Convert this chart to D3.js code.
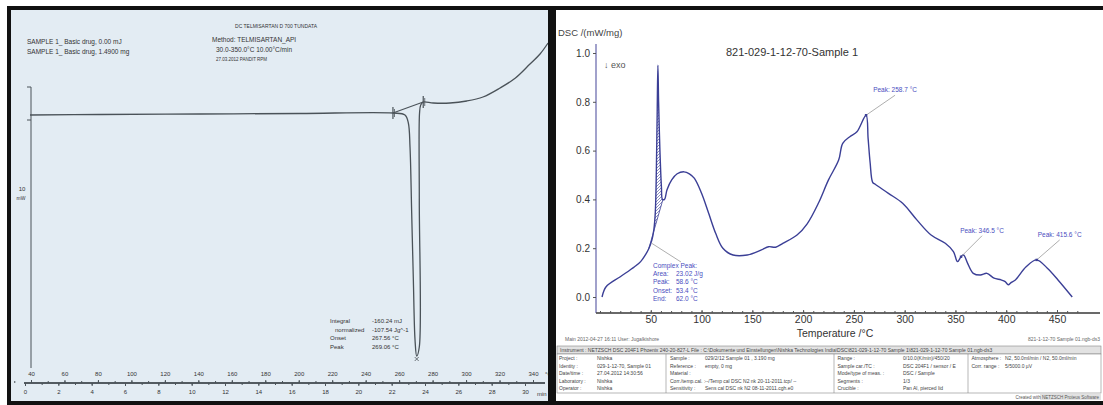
<!DOCTYPE html>
<html><head><meta charset="utf-8">
<script src="https://cdn.jsdelivr.net/npm/d3@7"></script>
<style>body{margin:0;background:#fff}svg{display:block;font-family:"Liberation Sans",Arial,sans-serif}</style>
</head><body><svg id="c" width="1103" height="405"></svg>
<script>
// ---------- LEFT chart (Mettler style thermogram) ----------
const leftTempTicks = [40,60,80,100,120,140,160,180,200,220,240,260,280,300,320,340];
const leftTimeTicks = [0,2,4,6,8,10,12,14,16,18,20,22,24,26,28,30];
const leftTemp = [39.4,81.2,141,200.8,256.3,263.5,265.5,266.5,267.5,268.5,269.5,270.5,272.05,272.05,272.2,272.9,274.4,280.4,290.4,300.4,310.1,320.3,329.5,338.2,344.2,349];
const leftHeatFlow = [-0.1,-0.05,0,0.05,0.1,-0.1,-0.9,-3.3,-9.9,-16.6,-22.6,-24.2,-23.3,-8.6,0.1,0.9,1.2,1.1,1.1,1.3,1.7,2.6,3.6,5.0,6.0,7.1];
const leftBaseTemp = [256.3,274.4];
const leftBaseHF = [0.1,1.2];
const leftHeaderLines = ["SAMPLE 1_  Basic drug, 0.00    mJ","SAMPLE 1_  Basic drug, 1.4900 mg"];
const leftMethodLines = ["Method: TELMISARTAN_API","30.0-350.0°C 10.00°C/min","27.03.2012 PANDIT RPM"];
const leftTitle = "DC TELMISARTAN D 700 TUNDATA";
const leftResultLabels = ["Integral","normalized","Onset","Peak"];
const leftResultValues = ["-160.24 mJ","-107.54 Jg^-1","267.56 °C","269.06 °C"];

// ---------- RIGHT chart (NETZSCH DSC) ----------
const rightTemp = [2,6,20,34,40,45,48,51,53,54.5,55.5,56.3,57,57.7,59,60.5,61.5,63.5,66,70.6,76,82.7,88,93,100,107,114,121,131,145,159,166,173,180,194,204,215,225,235,239,246,253,262,264,266,268.5,271,284,298,312,326,340,348,352,355.5,358,362,367.6,374.5,381,388,395,399,402,405,409,419.6,430,440.5,451,465];
const rightDSC = [0.0,0.042,0.083,0.124,0.145,0.175,0.198,0.232,0.275,0.35,0.52,0.75,0.95,0.8,0.6,0.45,0.40,0.40,0.44,0.48,0.505,0.513,0.505,0.486,0.425,0.343,0.26,0.2,0.172,0.172,0.193,0.206,0.204,0.22,0.254,0.30,0.384,0.48,0.561,0.63,0.657,0.677,0.745,0.65,0.55,0.47,0.462,0.425,0.384,0.316,0.254,0.22,0.186,0.145,0.165,0.172,0.138,0.097,0.09,0.097,0.077,0.07,0.063,0.05,0.06,0.07,0.124,0.152,0.118,0.07,0.0];
const rightXTicks = [50,100,150,200,250,300,350,400,450];
const rightYTicks = [0.0,0.2,0.4,0.6,0.8,1.0];
const complexPeakRange = [48,62];
const complexPeakLines = [["Complex Peak:",""],["Area:","23.02 J/g"],["Peak:","58.6 °C"],["Onset:","53.4 °C"],["End:","62.0 °C"]];
const peakTemps = [262,355.5,430];
const peakTexts = ["Peak: 258.7 °C","Peak: 346.5 °C","Peak: 415.6 °C"];
const tableHeader = "Instrument :   NETZSCH DSC 204F1 Phoenix 240-20-827-L    File :   C:\\Dokumente und Einstellungen\\Nishka Technologies India\\DSC\\821-029-1-12-70 Sample 1\\821-029-1-12-70 Sample 01.ngb-ds3";
const tableLabels = [
  ["Project :","Identity :","Date/time :","Laboratory :","Operator :"],
  ["Sample :","Reference :","Material :","Corr./temp.cal. :","Sensitivity :"],
  ["Range :","Sample car./TC :","Mode/type of meas. :","Segments :","Crucible :"],
  ["Atmosphere :","Corr. range :"]];
const tableValues = [
  ["Nishka","029-1-12-70, Sample 01","27.04.2012 14:30:56","Nishka","Nishka"],
  ["029/2/12 Sample 01 , 3.190 mg","empty, 0 mg","","--/Temp cal DSC N2 nk 20-11-2011.tcp/ --","Sens cal DSC nk N2 08-11-2011.cgh.e0"],
  ["0/10.0(K/min)/450/20","DSC 204F1 / sensor / E","DSC / Sample","1/3","Pan Al, pierced lid"],
  ["N2, 50.0ml/min / N2, 50.0ml/min","5/5000.0 µV"]];

const svg = d3.select("#c");
const defs = svg.append("defs");

// ===== LEFT PANEL =====
svg.append("rect").attr("x",8).attr("y",8).attr("width",541).attr("height",395).attr("fill","#e3ecf3");
const xL = d3.scaleLinear().domain([40,340]).range([31,533]);
const tL = d3.scaleLinear().domain([0,30]).range([25,525]);
const yL = d3.scaleLinear().domain([0,-24.2]).range([114,356]);
const L = svg.append("g");
const ink = "#4a5258";

L.append("text").attr("x",276).attr("y",28).attr("text-anchor","middle").attr("font-size",5).attr("fill","#333").text(leftTitle);
leftHeaderLines.forEach((t,i)=>L.append("text").attr("x",27).attr("y",44+i*10).attr("font-size",6.5).attr("fill","#333").text(t));
leftMethodLines.forEach((t,i)=>L.append("text").attr("x",i==0?212:216).attr("y",42+i*9.5).attr("font-size",i==2?4.5:6.5).attr("fill","#333").text(t));

// scale bar
L.append("path").attr("d",`M27,87 L31,87 L31,368`).attr("fill","none").attr("stroke",ink).attr("stroke-width",1);
L.append("path").attr("d",`M27,120 L31,120`).attr("stroke",ink);
L.append("text").attr("x",22).attr("y",191).attr("text-anchor","middle").attr("font-size",6).attr("fill","#333").text("10");
L.append("text").attr("x",21).attr("y",200).attr("text-anchor","middle").attr("font-size",5).attr("fill","#333").text("mW");

const lineL = d3.line().x((d,i)=>xL(leftTemp[i])).y((d,i)=>yL(leftHeatFlow[i])).curve(d3.curveCatmullRom.alpha(0.5));
L.append("path").attr("d",lineL(leftTemp)).attr("fill","none").attr("stroke",ink).attr("stroke-width",1.3);
L.append("line").attr("x1",xL(leftBaseTemp[0])).attr("y1",yL(leftBaseHF[0])).attr("x2",xL(leftBaseTemp[1])).attr("y2",yL(leftBaseHF[1])).attr("stroke",ink).attr("stroke-width",1.1);
leftBaseTemp.forEach((t,i)=>{
  const x=xL(t), y=yL(leftBaseHF[i]);
  L.append("line").attr("x1",x).attr("x2",x).attr("y1",y-6).attr("y2",y+6).attr("stroke",ink).attr("stroke-width",1.2);
  L.append("line").attr("x1",x+1.5).attr("x2",x+1.5).attr("y1",y-4).attr("y2",y+4).attr("stroke",ink).attr("stroke-width",0.8);
});
const tipX = xL(270.5), tipY = yL(-24.2);
L.append("path").attr("d",`M${tipX-2},${tipY+1} L${tipX+2},${tipY+5} M${tipX+2},${tipY+1} L${tipX-2},${tipY+5}`).attr("stroke",ink).attr("stroke-width",0.8);

leftResultLabels.forEach((t,i)=>{
  L.append("text").attr("x",i==1?335:330).attr("y",323+i*8.5).attr("font-size",6).attr("fill","#333").text(t);
  L.append("text").attr("x",372).attr("y",323+i*8.5).attr("font-size",6).attr("fill","#333").text(leftResultValues[i]);
});

// bottom axis
const axG = L.append("g").attr("transform","translate(0,383)");
axG.call(d3.axisTop(xL).tickValues(leftTempTicks).tickSize(3).tickPadding(4));
axG.append("g").call(d3.axisTop(xL).tickValues(d3.range(30,351,10)).tickSize(2).tickFormat(""));
axG.append("g").call(d3.axisBottom(tL).tickValues(leftTimeTicks).tickSize(3).tickPadding(4));
axG.append("g").call(d3.axisBottom(tL).tickValues(d3.range(0,31,1)).tickSize(2).tickFormat(""));
axG.selectAll(".domain").attr("d","M24,0H545").attr("stroke",ink);
axG.selectAll("line").attr("stroke",ink);
axG.selectAll("text").attr("font-size",6).attr("fill","#333");
L.append("text").attr("x",545).attr("y",376).attr("font-size",6).attr("fill","#333").text("°C");
L.append("text").attr("x",537).attr("y",396).attr("font-size",6).attr("fill","#333").text("min");

// ===== RIGHT PANEL =====
svg.append("rect").attr("x",556).attr("y",8).attr("width",547).attr("height",395).attr("fill","#fff");
const xR = d3.scaleLinear().domain([0,450]).range([600,1057]);
const yR = d3.scaleLinear().domain([0,1]).range([297,53]);
const R = svg.append("g");
const blue = "#3b3f96";

R.append("text").attr("x",558).attr("y",36).attr("font-size",9.5).attr("fill","#444").text("DSC /(mW/mg)");
R.append("text").attr("x",792).attr("y",56).attr("text-anchor","middle").attr("font-size",11).attr("fill","#333").text("821-029-1-12-70-Sample 1");
R.append("text").attr("x",604).attr("y",68).attr("font-size",9).attr("fill","#555").text("↓ exo");

const yAx = R.append("g").attr("transform","translate(596,0)").call(d3.axisLeft(yR).tickValues(rightYTicks).tickFormat(d3.format(".1f")).tickSize(3).tickPadding(3));
yAx.select(".domain").attr("d","M0,44V313").attr("stroke","#6f6fb0").attr("stroke-width",1.3);
yAx.selectAll("line").attr("stroke","#555");
yAx.selectAll("text").attr("font-size",10).attr("fill","#333");

const xAx = R.append("g").attr("transform","translate(0,313)").call(d3.axisBottom(xR).tickValues(rightXTicks).tickSize(0).tickPadding(3));
xAx.append("g").call(d3.axisTop(xR).tickValues(d3.range(0,471,10)).tickSize(2).tickFormat(""));
xAx.append("g").call(d3.axisTop(xR).tickValues(rightXTicks).tickSize(3).tickFormat(""));
xAx.selectAll(".domain").attr("d","M596,0H1100").attr("stroke","#555");
xAx.selectAll("line").attr("stroke","#555");
xAx.selectAll("text").attr("font-size",10.5).attr("fill","#333");
R.append("text").attr("x",835).attr("y",337).attr("text-anchor","middle").attr("font-size",10.5).attr("fill","#333").text("Temperature /°C");

// hatch pattern
const pat = defs.append("pattern").attr("id","hatch").attr("patternUnits","userSpaceOnUse").attr("width",3).attr("height",3);
pat.append("path").attr("d","M0,3 L3,0 M-1,1 L1,-1 M2,4 L4,2").attr("stroke",blue).attr("stroke-width",0.6);

const lineR = d3.line().x((d,i)=>xR(rightTemp[i])).y((d,i)=>yR(rightDSC[i])).curve(d3.curveCatmullRom.alpha(0.5));
// complex peak area
const idx = rightTemp.map((t,i)=>i).filter(i=>rightTemp[i]>=complexPeakRange[0]&&rightTemp[i]<=complexPeakRange[1]);
const b0=[complexPeakRange[0],0.198], b1=[complexPeakRange[1],0.40];
const areaPts = idx.map(i=>[xR(rightTemp[i]),yR(rightDSC[i])]);
R.append("path").attr("d","M"+xR(b0[0])+","+yR(b0[1])+"L"+areaPts.map(p=>p.join(",")).join("L")+"L"+xR(b1[0])+","+yR(b1[1])+"Z").attr("fill","url(#hatch)").attr("stroke","none");
R.append("line").attr("x1",xR(b0[0])).attr("y1",yR(b0[1])).attr("x2",xR(b1[0])).attr("y2",yR(b1[1])).attr("stroke",blue).attr("stroke-width",0.8);
R.append("path").attr("d",lineR(rightTemp)).attr("fill","none").attr("stroke",blue).attr("stroke-width",1.4);

// complex peak text
R.append("line").attr("x1",xR(51)).attr("y1",yR(0.22)).attr("x2",681).attr("y2",262).attr("stroke","#999").attr("stroke-width",0.8);
complexPeakLines.forEach((p,i)=>{
  R.append("text").attr("x",653).attr("y",268+i*8.2).attr("font-size",6.5).attr("fill","#4a4ec0").text(p[0]);
  if(p[1]) R.append("text").attr("x",676).attr("y",268+i*8.2).attr("font-size",6.5).attr("fill","#4a4ec0").text(p[1]);
});
// peak labels
const peakOff = [[29,-20],[21,-21],[23,-20]];
peakTemps.forEach((t,i)=>{
  const j = rightTemp.indexOf(t);
  const px = xR(t), py = yR(rightDSC[j]);
  R.append("line").attr("x1",px).attr("y1",py).attr("x2",px+peakOff[i][0]).attr("y2",py+peakOff[i][1]).attr("stroke","#999").attr("stroke-width",0.8);
  R.append("rect").attr("x",px-1.2).attr("y",py-1.2).attr("width",2.4).attr("height",2.4).attr("fill",blue);
  R.append("text").attr("x",px+peakOff[i][0]).attr("y",py+peakOff[i][1]-3).attr("text-anchor","middle").attr("font-size",6.5).attr("fill","#4a4ec0").text(peakTexts[i]);
});

// footer texts
R.append("text").attr("x",565).attr("y",341).attr("font-size",5).attr("fill","#666").text("Main   2012-04-27 16:11    User: Jugalkishore");
R.append("text").attr("x",1100).attr("y",341).attr("text-anchor","end").attr("font-size",5).attr("fill","#666").text("821-1-12-70 Sample 01.ngb-ds3");

// table
R.append("rect").attr("x",557).attr("y",346).attr("width",544).attr("height",8).attr("fill","#e2e2e2").attr("stroke","#888").attr("stroke-width",0.6);
R.append("text").attr("x",560).attr("y",352).attr("font-size",5).attr("fill","#444").text(tableHeader);
R.append("rect").attr("x",557).attr("y",354).attr("width",544).attr("height",39).attr("fill","#fff").attr("stroke","#888").attr("stroke-width",0.6);
const colX = [[559,597],[670,705],[837.5,903],[971.5,1005]];
[666,834,968].forEach(x=>R.append("line").attr("x1",x).attr("x2",x).attr("y1",354).attr("y2",393).attr("stroke","#888").attr("stroke-width",0.6));
tableLabels.forEach((col,c)=>col.forEach((lab,r)=>{
  R.append("text").attr("x",colX[c][0]).attr("y",360+r*7.5).attr("font-size",5).attr("fill","#444").text(lab);
  R.append("text").attr("x",colX[c][1]).attr("y",360+r*7.5).attr("font-size",5).attr("fill","#444").text(tableValues[c][r]);
}));
R.append("rect").attr("x",1040).attr("y",394).attr("width",61).attr("height",6).attr("fill","#e2e2e2");
R.append("text").attr("x",1099).attr("y",399).attr("text-anchor","end").attr("font-size",4.5).attr("fill","#555").text("Created with NETZSCH Proteus Software");

// ===== frames =====
svg.append("rect").attr("x",0).attr("y",6).attr("width",1103).attr("height",4).attr("fill","#111");
svg.append("rect").attr("x",7).attr("y",6).attr("width",4).attr("height",399).attr("fill","#111");
svg.append("rect").attr("x",548).attr("y",6).attr("width",8).attr("height",399).attr("fill","#111");
svg.append("rect").attr("x",7).attr("y",401).attr("width",1096).attr("height",4).attr("fill","#111");
svg.append("rect").attr("x",0).attr("y",0).attr("width",1103).attr("height",6).attr("fill","#fff");
svg.append("rect").attr("x",0).attr("y",6).attr("width",7).attr("height",399).attr("fill","#fff");
</script></body></html>
